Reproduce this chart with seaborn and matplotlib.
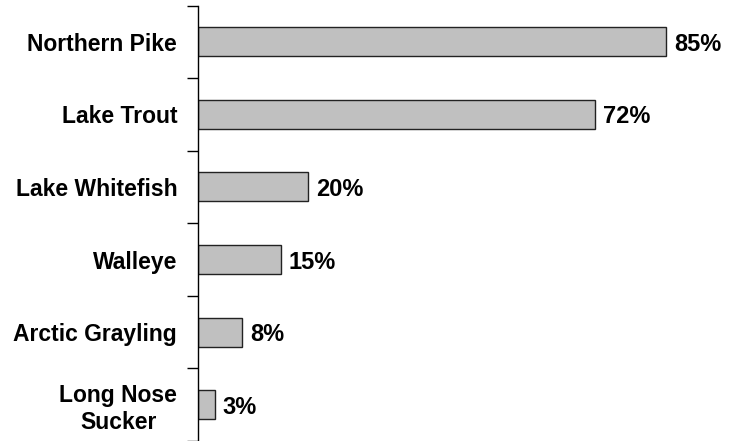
import pandas as pd
import matplotlib.pyplot as plt
import seaborn as sns
from matplotlib.ticker import FixedLocator

sns.set_theme(style="white")
plt.rcParams['font.family'] = ['Liberation Sans', 'DejaVu Sans']

# values
species = ["Northern Pike", "Lake Trout", "Lake Whitefish", "Walleye",
           "Arctic Grayling", "Long Nose\nSucker"]
percent = [85, 72, 20, 15, 8, 3]

df = pd.DataFrame({"species": species, "percent": percent})

fig = plt.figure(figsize=(7.41, 4.41), dpi=100)
ax = fig.add_axes([198 / 741, 0.0, 543 / 741, 435.5 / 441])

sns.barplot(data=df, x="percent", y="species", orient="h", width=0.4,
            color="#c0c0c0", edgecolor="#222222", linewidth=1,
            saturation=1, ax=ax)

# percent labels just past each bar end
labels = ax.bar_label(ax.containers[0], labels=[f"{p}%" for p in percent],
                      padding=6, fontsize=17, fontweight="bold", color="black")
for t in labels:
    t.set_verticalalignment("center_baseline")

ax.set_xlim(0, 98.6)
ax.set_ylim(len(species) - 0.5, -0.5)
ax.set_xlabel("")
ax.set_ylabel("")
ax.set_xticks([])

for side in ["top", "right", "bottom"]:
    ax.spines[side].set_visible(False)
ax.spines["left"].set_color("black")
ax.spines["left"].set_linewidth(1)

# category ticks hidden, small marks between the categories
ax.tick_params(axis="y", which="major", length=0, pad=15)
ax.yaxis.set_minor_locator(FixedLocator([i - 0.5 for i in range(len(species) + 1)]))
ax.tick_params(axis="y", which="minor", left=True, length=8, width=1, color="black", direction="out")
for lbl in ax.get_yticklabels():
    lbl.set_fontsize(16.5)
    lbl.set_fontweight("bold")
    lbl.set_horizontalalignment("right")
    lbl.set_multialignment("center")
    lbl.set_color("black")

fig.savefig("out.png", dpi=100)
